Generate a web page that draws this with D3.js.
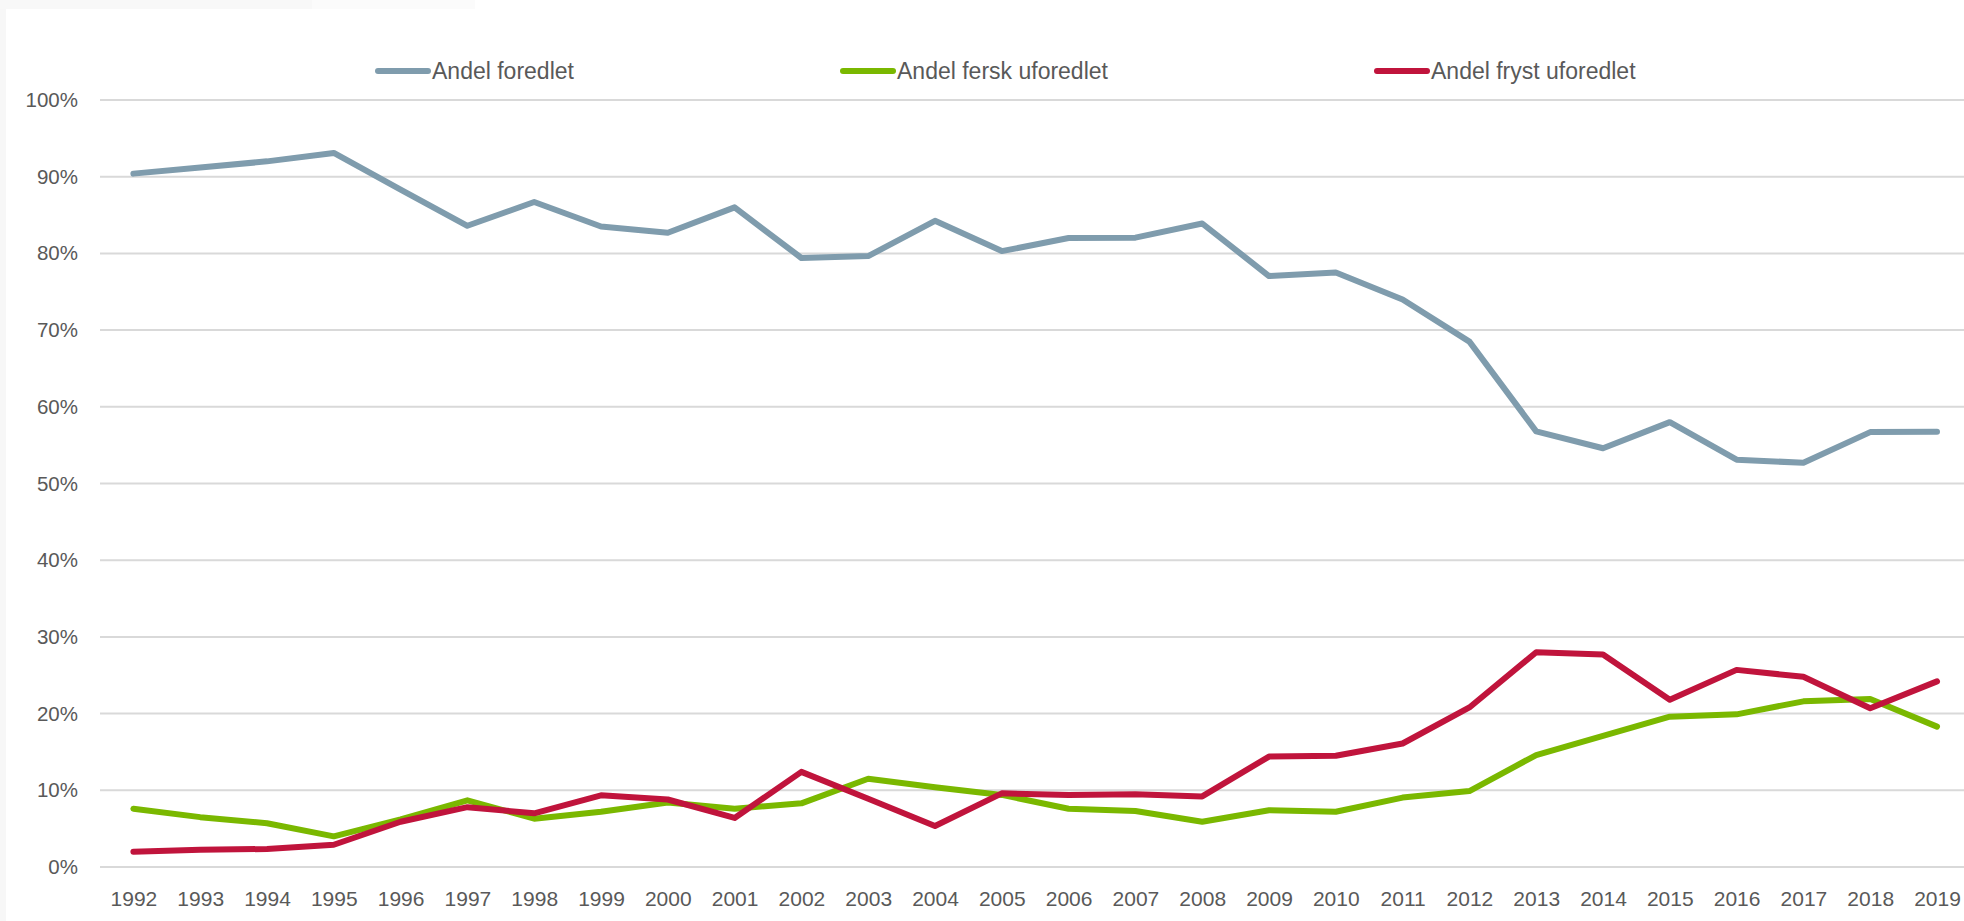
<!DOCTYPE html>
<html>
<head>
<meta charset="utf-8">
<script src="https://cdn.jsdelivr.net/npm/d3@7"></script>
<style>
  body { margin: 0; background: #ffffff; overflow: hidden; }
  text { font-family: "Liberation Sans", Arial, sans-serif; fill: #595959; }
</style>
</head>
<body>
<div id="chart"></div>
<script>
// Year categories
const years = [1992, 1993, 1994, 1995, 1996, 1997, 1998, 1999, 2000, 2001,
  2002, 2003, 2004, 2005, 2006, 2007, 2008, 2009, 2010, 2011,
  2012, 2013, 2014, 2015, 2016, 2017, 2018, 2019];

// Shares in percent
const andelForedlet = [90.4, 91.2, 92.0, 93.1, 88.3, 83.6, 86.7, 83.5, 82.7, 86.0,
  79.4, 79.65, 84.25, 80.3, 82.0, 82.05, 83.9, 77.05, 77.5, 74.0,
  68.5, 56.8, 54.6, 58.0, 53.1, 52.7, 56.7, 56.75];

const andelFersk = [7.6, 6.5, 5.7, 4.0, 6.2, 8.7, 6.3, 7.2, 8.4, 7.6,
  8.3, 11.5, 10.4, 9.4, 7.6, 7.3, 5.9, 7.4, 7.2, 9.05,
  9.9, 14.6, 17.1, 19.6, 19.9, 21.6, 21.9, 18.3];

const andelFryst = [2.0, 2.25, 2.35, 2.9, 5.9, 7.8, 7.0, 9.35, 8.8, 6.4,
  12.4, 8.9, 5.35, 9.6, 9.4, 9.5, 9.2, 14.4, 14.5, 16.1,
  20.8, 28.0, 27.7, 21.8, 25.7, 24.8, 20.7, 24.2];

const seriesNames = ['Andel foredlet', 'Andel fersk uforedlet', 'Andel fryst uforedlet'];
const seriesColors = ['#7f9cad', '#7ab800', '#c0143c'];
const yTicks = [0, 10, 20, 30, 40, 50, 60, 70, 80, 90, 100];

const series = [andelForedlet, andelFersk, andelFryst];

// Layout
const width = 1964;
const height = 921;
const margin = { top: 100, left: 100, bottom: 54 };
const step = 66.8;
const legendX = [376, 841, 1375];

const svg = d3.select('#chart')
  .append('svg')
  .attr('width', width)
  .attr('height', height);

// faint screenshot frame at the top-left edge
svg.append('rect').attr('x', 0).attr('y', 0).attr('width', 6).attr('height', height).attr('fill', '#f7f7f7');
svg.append('rect').attr('x', 0).attr('y', 0).attr('width', 312).attr('height', 9).attr('fill', '#f8f8f8');
svg.append('rect').attr('x', 312).attr('y', 0).attr('width', 163).attr('height', 9).attr('fill', '#fbfbfb');

const xScale = d3.scalePoint()
  .domain(years)
  .range([margin.left + step / 2, margin.left + step / 2 + step * (years.length - 1)]);

const yScale = d3.scaleLinear()
  .domain([0, 100])
  .range([height - margin.bottom, margin.top]);

// Gridlines
svg.append('g')
  .selectAll('line')
  .data(yTicks)
  .enter()
  .append('line')
  .attr('x1', margin.left)
  .attr('x2', width)
  .attr('y1', d => yScale(d))
  .attr('y2', d => yScale(d))
  .attr('stroke', '#d9d9d9')
  .attr('stroke-width', 2);

// Y axis labels
const yAxis = svg.append('g')
  .attr('transform', `translate(${margin.left - 22},0)`)
  .call(d3.axisLeft(yScale).tickValues(yTicks).tickSize(0).tickPadding(0).tickFormat(d => d + '%'));
yAxis.select('.domain').remove();
yAxis.selectAll('text')
  .style('font-size', '20.5px')
  .style('fill', '#595959')
  .style('font-family', '"Liberation Sans", Arial, sans-serif');

// X axis labels
const xAxis = svg.append('g')
  .attr('transform', `translate(0,${height - margin.bottom + 24})`)
  .call(d3.axisBottom(xScale).tickSize(0).tickPadding(0));
xAxis.select('.domain').remove();
xAxis.selectAll('text')
  .style('font-size', '21px')
  .style('fill', '#595959')
  .style('font-family', '"Liberation Sans", Arial, sans-serif');

// Lines
const line = d3.line()
  .x((d, i) => xScale(years[i]))
  .y(d => yScale(d));

svg.append('g')
  .selectAll('path')
  .data(series)
  .enter()
  .append('path')
  .attr('d', d => line(d))
  .attr('fill', 'none')
  .attr('stroke', (d, i) => seriesColors[i])
  .attr('stroke-width', 6)
  .attr('stroke-linejoin', 'round')
  .attr('stroke-linecap', 'round');

// Legend
const legendItems = svg.append('g')
  .attr('class', 'legend')
  .selectAll('.legend-item')
  .data(seriesNames)
  .enter()
  .append('g')
  .attr('class', 'legend-item')
  .attr('transform', (d, i) => `translate(${legendX[i]},71)`);

legendItems.append('line')
  .attr('x1', 2)
  .attr('x2', 52)
  .attr('y1', 0)
  .attr('y2', 0)
  .attr('stroke', (d, i) => seriesColors[i])
  .attr('stroke-width', 6)
  .attr('stroke-linecap', 'round');

legendItems.append('text')
  .attr('x', 56)
  .attr('y', 8)
  .style('font-size', '23px')
  .text(d => d);
</script>
</body>
</html>
